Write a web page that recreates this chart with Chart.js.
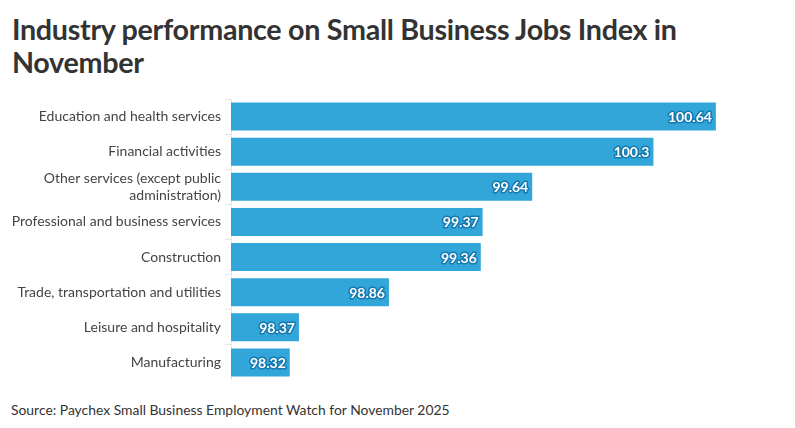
<!DOCTYPE html>
<html>
<head>
<meta charset="utf-8">
<script src="https://cdn.jsdelivr.net/npm/chart.js@4"></script>
<style>
  body { margin: 0; background: #fff; font-family: Lato, sans-serif; width: 795px; height: 428px; position: relative; overflow: hidden; }
  #title { position: absolute; left: 12px; top: 13px; width: 740px; font-size: 28.7px; font-weight: 700; color: #333; line-height: 33px; letter-spacing: -0.3px; }
  #wrap { position: absolute; left: 0; top: 99px; width: 795px; height: 281px; }
  #source { position: absolute; left: 11px; top: 401px; font-size: 13.9px; color: #333; }
</style>
</head>
<body>
<div id="title">Industry performance on Small Business Jobs Index in November</div>
<div id="wrap"><canvas id="chart"></canvas></div>
<div id="source">Source: Paychex Small Business Employment Watch for November 2025</div>
<script>
// categories and values
const industries = [
    'Education and health services',
    'Financial activities',
    ['Other services (except public', 'administration)'],
    'Professional and business services',
    'Construction',
    'Trade, transportation and utilities',
    'Leisure and hospitality',
    'Manufacturing'
];
const indexValues = [100.64, 100.3, 99.64, 99.37, 99.36, 98.86, 98.37, 98.32];
const axisMin = 98;
const axisMax = 101;

// draw value labels at the end of each bar (white text, blue outline)
const valueLabels = {
    id: 'valueLabels',
    afterDatasetsDraw(chart) {
        const ctx = chart.ctx;
        const meta = chart.getDatasetMeta(0);
        ctx.save();
        ctx.font = 'bold 14px Lato, sans-serif';
        ctx.textAlign = 'right';
        ctx.textBaseline = 'middle';
        ctx.lineJoin = 'round';
        meta.data.forEach((bar, i) => {
            const txt = String(indexValues[i]);
            const x = bar.x - 4;
            const y = bar.y + 1;
            ctx.lineWidth = 3;
            ctx.strokeStyle = '#1679b0';
            ctx.strokeText(txt, x, y);
            ctx.fillStyle = '#fff';
            ctx.fillText(txt, x, y);
        });
        ctx.restore();
    }
};

new Chart(document.getElementById('chart'), {
    type: 'bar',
    data: {
        labels: industries,
        datasets: [{
            data: indexValues,
            backgroundColor: '#32a6d9',
            barPercentage: 0.8,
            categoryPercentage: 1.0
        }]
    },
    plugins: [valueLabels],
    options: {
        indexAxis: 'y',
        responsive: true,
        maintainAspectRatio: false,
        animation: false,
        layout: { padding: { left: 10, right: 13, top: 0, bottom: 0 } },
        plugins: { legend: { display: false }, tooltip: { enabled: false } },
        scales: {
            x: { display: false, min: axisMin, max: axisMax },
            y: {
                afterFit: scale => {
                    scale.width = 221;
                    scale.paddingTop = 0;
                    scale.paddingBottom = 0;
                },
                grid: { drawOnChartArea: false, tickLength: 6, color: '#e6e6e6' },
                border: { color: '#e6e6e6' },
                ticks: { color: '#444', font: { family: 'Lato', size: 14 }, padding: 4, autoSkip: false }
            }
        }
    }
});
</script>
</body>
</html>
